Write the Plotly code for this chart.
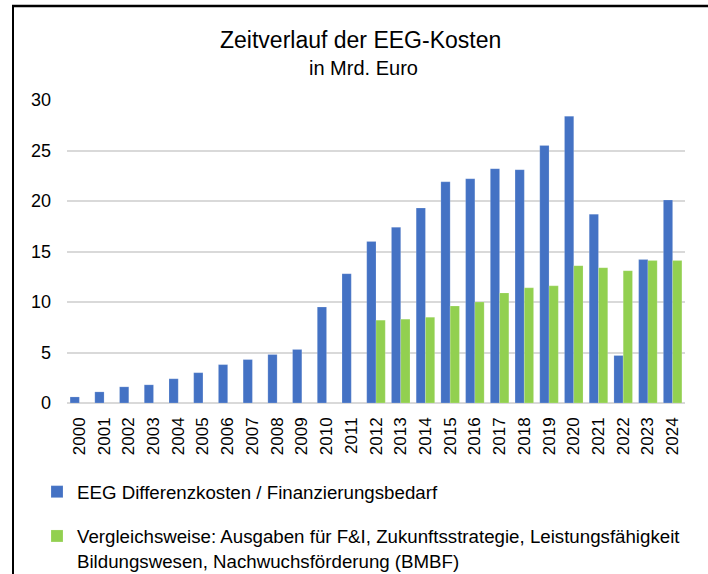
import plotly.graph_objects as go

years = [str(y) for y in range(2000, 2025)]
eeg_costs = [0.6, 1.1, 1.6, 1.8, 2.4, 3.0, 3.8, 4.3, 4.8, 5.3, 9.5, 12.8,
             16.0, 17.4, 19.3, 21.9, 22.2, 23.2, 23.1, 25.5, 28.4, 18.7, 4.7, 14.2, 20.1]
bmbf = [None] * 12 + [8.2, 8.3, 8.5, 9.6, 10.0, 10.9, 11.4, 11.6, 13.6, 13.4, 13.1, 14.1, 14.1]

name_eeg = "EEG Differenzkosten / Finanzierungsbedarf"
name_bmbf = ("Vergleichsweise: Ausgaben für F&I, Zukunftsstrategie, Leistungsfähigkeit<br>"
             "Bildungswesen, Nachwuchsförderung (BMBF)")
title_text = "Zeitverlauf der EEG-Kosten"
subtitle_text = "in Mrd. Euro"

W, H = 708, 574
L, R, T, B = 67, 23, 100, 171
PW, PH = W - L - R, H - T - B

def px(x):
    return (x - L) / PW

def py(y):
    return (H - B - y) / PH

FONT = "Liberation Sans, Arial, sans-serif"

fig = go.Figure()
fig.add_trace(go.Bar(x=years, y=eeg_costs, name=name_eeg, marker_color="#4472C4",
                     marker_line=dict(color="rgba(255,255,255,0.35)", width=0.5),
                     legendgroup="a"))
fig.add_trace(go.Bar(x=years, y=bmbf, name=name_bmbf, marker_color="#92D050",
                     marker_line=dict(color="rgba(255,255,255,0.35)", width=0.5),
                     legendgroup="b"))

fig.update_layout(
    width=W, height=H,
    margin=dict(l=L, r=R, t=T, b=B, autoexpand=False),
    paper_bgcolor="white", plot_bgcolor="white",
    barmode="group", bargap=0.25, bargroupgap=0,
    font=dict(family=FONT, color="#000000", size=17),
    showlegend=True,
    legend=dict(x=px(37), xanchor="left", y=py(473), yanchor="top",
                orientation="v", valign="top", tracegroupgap=17,
                font=dict(family=FONT, size=18.7, color="#000000"),
                bgcolor="rgba(0,0,0,0)"),
    xaxis=dict(type="category", tickangle=-90, showgrid=False, showline=False,
               ticks="", tickfont=dict(size=17), ticklabelstandoff=10),
    yaxis=dict(range=[0, 30], dtick=5, showgrid=True, gridcolor="#d9d9d9",
               gridwidth=1.5, zeroline=True, zerolinecolor="#d9d9d9",
               zerolinewidth=1.5, showline=False, ticks="",
               tickfont=dict(size=18), ticklabelstandoff=15),
    annotations=[
        dict(text=title_text, x=px(360), y=py(40), xref="paper", yref="paper",
             showarrow=False, xanchor="center", yanchor="middle",
             font=dict(family=FONT, size=23, color="#000000")),
        dict(text=subtitle_text, x=px(363), y=py(68), xref="paper", yref="paper",
             showarrow=False, xanchor="center", yanchor="middle",
             font=dict(family=FONT, size=20, color="#000000")),
    ],
    shapes=[
        dict(type="line", xref="paper", yref="paper", x0=px(13), x1=px(13),
             y0=py(5), y1=py(H + 5), line=dict(color="black", width=2)),
        dict(type="line", xref="paper", yref="paper", x0=px(12), x1=px(W + 5),
             y0=py(6), y1=py(6), line=dict(color="black", width=2.5)),
    ],
)

fig.write_html("out.html", config={"displayModeBar": False},
               post_script="document.body.style.margin='0';document.body.style.padding='0';")
